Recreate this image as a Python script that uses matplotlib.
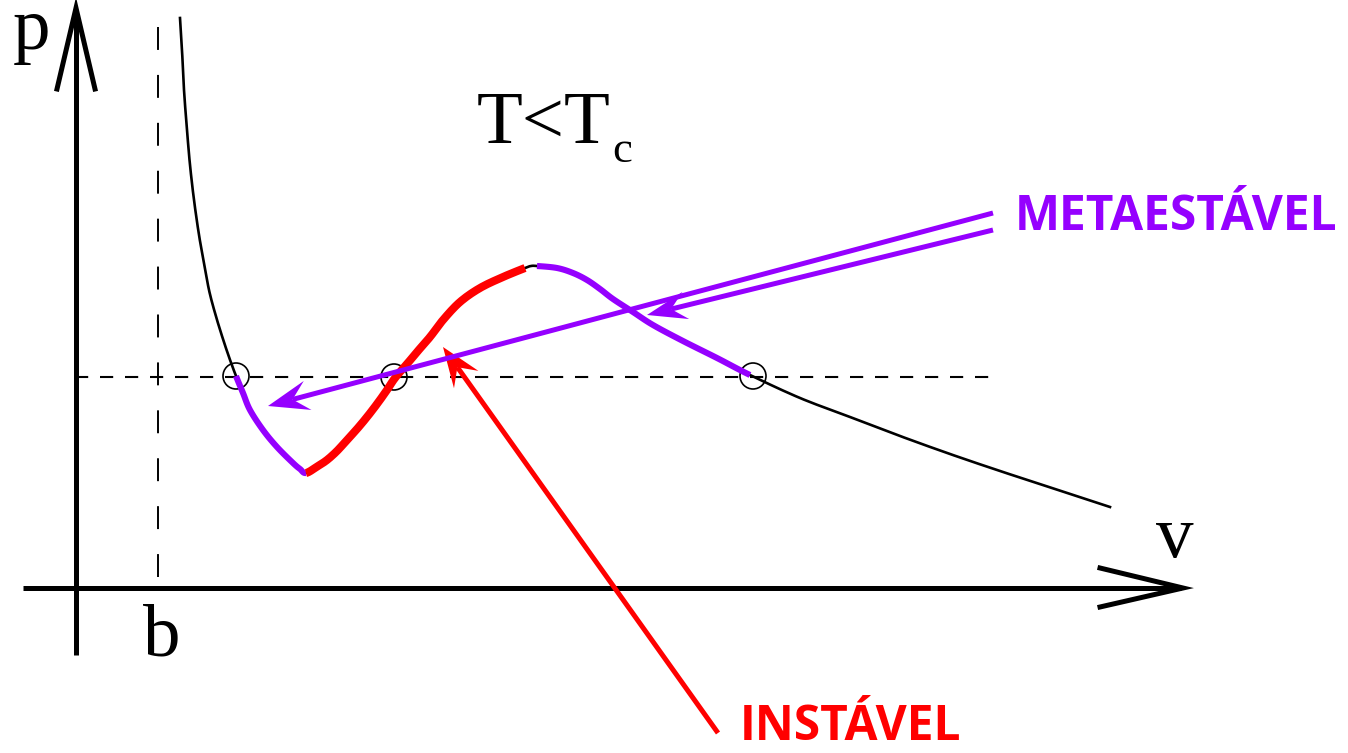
import numpy as np
import matplotlib.pyplot as plt
from matplotlib.patches import Circle, Polygon

plt.rcParams['lines.scale_dashes'] = False

PURPLE = '#9500ff'
RED = '#ff0000'

# isotherm traced in drawing units (x = volume, y = pressure, y grows downward)
curve_v = [180, 182, 184, 187, 190, 194, 199, 204, 209, 215, 222, 229, 236,
           243, 250, 263, 277, 293, 300, 306,
           318, 327, 337, 347, 357, 367, 377, 387, 395, 407, 417, 430, 443, 460,
           480, 503, 525, 531, 537, 557, 573, 587, 600, 613, 633, 653, 683, 717,
           750, 800, 850, 900, 950, 1000, 1055, 1110]
curve_p = [18, 50, 90, 130, 165, 200, 235, 263, 290, 313, 336, 357, 376,
           393, 410, 430, 447, 463, 469, 473,
           466, 460, 451, 440, 429, 417, 404, 390, 378, 364, 352, 337, 320, 302,
           288, 277, 268, 266, 266, 268, 273, 280, 289, 299, 312, 325, 341, 358,
           375, 398, 417, 436, 454, 471, 489, 507]

# branch limits along the curve
meta_left = (236, 306)
unstable = (306, 525)
meta_right = (537, 750)

# coexistence pressure and the three crossing points
p_sat = 377
crossings_v = [236, 394, 753]
crossings_p = [376, 377, 376]
b_pos = 158


def smooth(xs, ys, steps=12):
    # Catmull-Rom pass through the traced points so the line has no corners
    pts = np.column_stack([xs, ys]).astype(float)
    pts = np.vstack([pts[0], pts, pts[-1]])
    out = []
    t = np.linspace(0, 1, steps, endpoint=False)[:, None]
    for i in range(1, len(pts) - 2):
        p0, p1, p2, p3 = pts[i - 1], pts[i], pts[i + 1], pts[i + 2]
        seg = 0.5 * ((2 * p1) + (-p0 + p2) * t
                     + (2 * p0 - 5 * p1 + 4 * p2 - p3) * t ** 2
                     + (-p0 + 3 * p1 - 3 * p2 + p3) * t ** 3)
        out.append(seg)
    out.append(pts[-2][None, :])
    out = np.vstack(out)
    return out[:, 0], out[:, 1]


v = np.array(curve_v)
p = np.array(curve_p)

fig = plt.figure(figsize=(13.48, 7.53), dpi=100)
ax = fig.add_axes([0, 0, 1, 1])
ax.set_xlim(0, 1348)
ax.set_ylim(753, 0)
ax.axis('off')

# axes with open arrow heads
ax.plot([76, 76], [655, 10], color='black', lw=3.6, solid_capstyle='butt')
ax.plot([57, 76, 95], [89, 8, 89], color='black', lw=3.6, solid_joinstyle='miter')
ax.plot([23, 1181], [588, 588], color='black', lw=3.6, solid_capstyle='butt')
ax.plot([1100, 1183, 1100], [568, 588, 607], color='black', lw=3.6,
        solid_joinstyle='miter')

# dashed guides
ax.plot([b_pos, b_pos], [27, 588], color='black', lw=1.4, dashes=(16.5, 18))
ax.plot([75, 990], [p_sat, p_sat], color='black', lw=1.5, dashes=(9.5, 8.5))

# full isotherm
sv, sp = smooth(v, p)
ax.plot(sv, sp, color='black', lw=1.9, zorder=3)

for cv, cp in zip(crossings_v, crossings_p):
    ax.add_patch(Circle((cv, cp), 13, fill=False, ec='black', lw=1.2, zorder=3.5))


def branch(lo, hi):
    m = (sv >= lo) & (sv <= hi)
    return sv[m], sp[m]


bv, bp = branch(*meta_left)
ax.plot(bv, bp, color=PURPLE, lw=4.4, solid_capstyle='butt', zorder=4)
bv, bp = branch(*unstable)
ax.plot(bv, bp, color=RED, lw=5.8, solid_capstyle='butt', zorder=4)
bv, bp = branch(*meta_right)
ax.plot(bv, bp, color=PURPLE, lw=4.4, solid_capstyle='butt', zorder=4)


def pointer(tail, tip, color, length=38, half_w=14, z=5):
    tail = np.array(tail, float)
    tip = np.array(tip, float)
    d = (tip - tail) / np.linalg.norm(tip - tail)
    n = np.array([-d[1], d[0]])
    base = tip - d * length
    notch = tip - d * length * 0.62
    ax.plot([tail[0], notch[0]], [tail[1], notch[1]], color=color, lw=3.6,
            solid_capstyle='butt', zorder=z)
    ax.add_patch(Polygon([tip, base + n * half_w, notch, base - n * half_w],
                         closed=True, fc=color, ec='none', zorder=z))


pointer((718, 733), (443, 347), RED, length=40, half_w=15, z=5)
pointer((993, 213), (268, 406), PURPLE, length=41, half_w=15, z=6)
pointer((993, 230), (647, 315), PURPLE, length=40, half_w=14, z=6)

serif = 'Liberation Serif'
ax.text(32, 49, 'p', fontsize=54, family=serif, ha='center', va='baseline')
ax.text(162, 655, 'b', fontsize=54, family=serif, ha='center', va='baseline')
ax.text(1175, 557, 'v', fontsize=54, family=serif, ha='center', va='baseline')
ax.text(477, 143, 'T<T', fontsize=54, family=serif, ha='left', va='baseline')
ax.text(612, 162, 'c', fontsize=32, family=serif, ha='left', va='baseline')

ax.text(1015, 230, 'METAESTÁVEL', fontsize=34.5, family='Open Sans',
        fontweight='bold', color=PURPLE, ha='left', va='baseline')
ax.text(740, 740, 'INSTÁVEL', fontsize=34.5, family='Open Sans',
        fontweight='bold', color=RED, ha='left', va='baseline')

fig.savefig('out.png', dpi=100)
